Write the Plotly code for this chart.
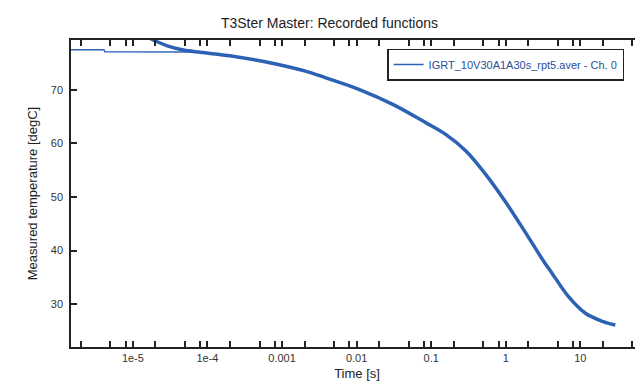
import plotly.graph_objects as go

# Recorded function (thick part) - time [s] and temperature [degC]
time_s = [1.6e-5, 2.12e-5, 2.89e-5, 4.58e-5, 7.96e-5, 2.0e-4, 5.04e-4, 1.05e-3,
          2.01e-3, 3.95e-3, 1.09e-2, 3.10e-2, 8.55e-2, 0.158, 0.292, 0.541,
          1.0, 1.85, 3.12, 4.25, 6.94, 11.7, 19.7, 29.4]
temp_c = [79.8, 78.97, 78.22, 77.48, 77.01, 76.36, 75.42, 74.49,
          73.55, 72.2, 70.06, 67.25, 63.83, 61.64, 58.60, 54.17,
          49.0, 43.3, 38.3, 35.6, 31.4, 28.3, 26.8, 26.1]

# Initial flat segment
flat_time = [1.4e-6, 4.1e-6, 4.2e-6, 8.5e-5]
flat_temp = [77.5, 77.5, 77.1, 77.05]

x_tickvals = []
x_ticktext = []
for e in range(-6, 2):
    for m in [1, 2, 5, 8]:
        x_tickvals.append(m * 10.0 ** e)
        x_ticktext.append(("1e-5" if e == -5 else "1e-4" if e == -4 else f"{10.0**e:g}") if (m == 1 and e >= -5) else "")

y_tickvals = [30, 40, 50, 60, 70]

blue = "#2b62b3"
fig = go.Figure()
fig.add_trace(go.Scatter(x=flat_time, y=flat_temp, mode="lines",
                         line=dict(color=blue, width=1.5),
                         name="IGRT_10V30A1A30s_rpt5.aver - Ch. 0"))
fig.add_trace(go.Scatter(x=time_s, y=temp_c, mode="lines",
                         line=dict(color=blue, width=3.5, shape="spline", smoothing=1.0),
                         showlegend=False))

axis_col = "#222222"
fig.update_layout(
    width=643, height=387,
    margin=dict(l=63, r=6, t=32, b=48),
    paper_bgcolor="white", plot_bgcolor="white",
    font=dict(family="Liberation Sans, Arial, sans-serif", size=11, color="#333333"),
    title=dict(text="T3Ster Master: Recorded functions", x=0.5, xref="container",
               y=0.961, yref="container", yanchor="middle",
               font=dict(size=14, color="#222222")),
    showlegend=True,
    legend=dict(x=0.967, xanchor="right", y=0.972, yanchor="top",
                bgcolor="white", bordercolor="#222222", borderwidth=1.5,
                font=dict(size=11, color="#2b4f9a"), tracegroupgap=0,
                itemwidth=30),
)
fig.update_xaxes(type="log", range=[-5.83, 1.84],
                 tickvals=x_tickvals, ticktext=x_ticktext,
                 ticks="inside", ticklen=6, tickcolor=axis_col, tickwidth=1.5,
                 showline=True, linecolor=axis_col, linewidth=1.5, mirror="ticks",
                 showgrid=False, zeroline=False,
                 title=dict(text="Time [s]", font=dict(size=13, color="#222222"), standoff=6),
                 tickfont=dict(size=11, color="#333333"))
fig.update_yaxes(range=[22.0, 79.3], tickvals=y_tickvals,
                 ticks="inside", ticklen=6, tickcolor=axis_col, tickwidth=1.5,
                 showline=True, linecolor=axis_col, linewidth=1.5, mirror="ticks",
                 showgrid=False, zeroline=False,
                 title=dict(text="Measured temperature [degC]", font=dict(size=13, color="#222222"), standoff=10),
                 tickfont=dict(size=11, color="#333333"), ticklabelstandoff=4)

fig.write_html("out.html")
